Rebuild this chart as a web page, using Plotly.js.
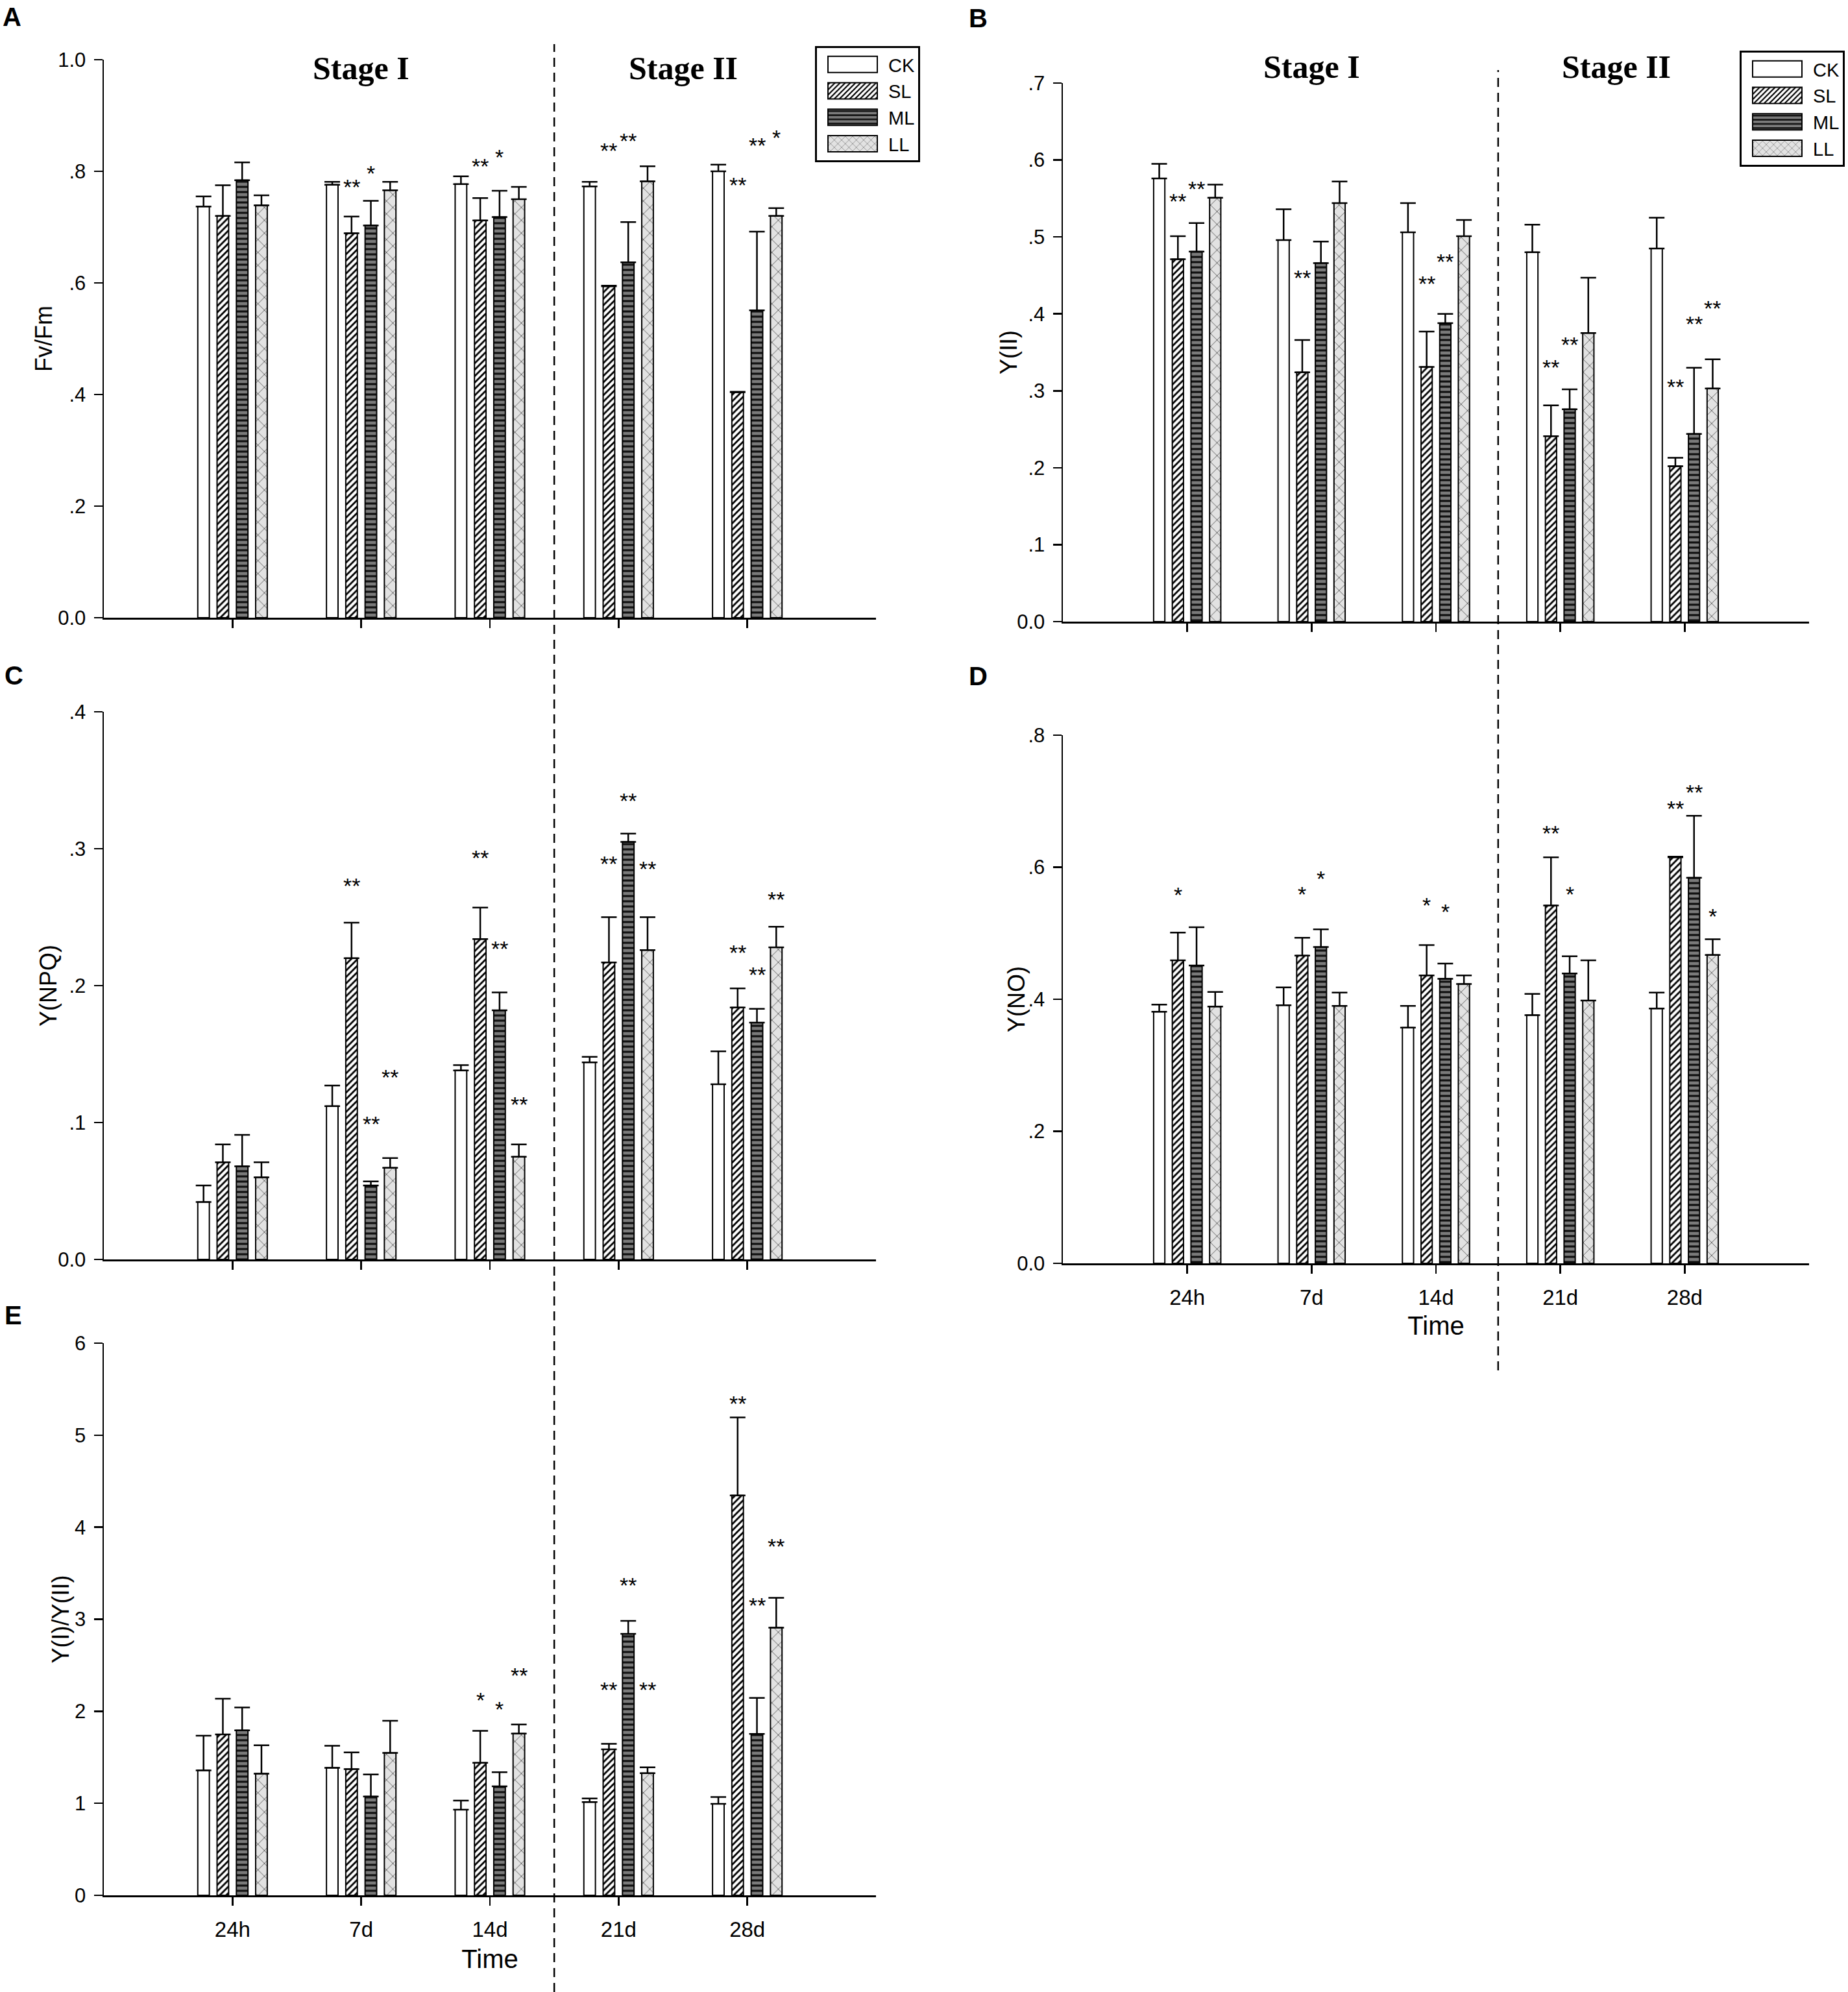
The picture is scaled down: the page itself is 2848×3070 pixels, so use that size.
<!DOCTYPE html>
<html>
<head>
<meta charset="utf-8">
<script src="https://cdn.plot.ly/plotly-3.0.1.min.js"></script>
<style>
  body { margin: 0; background: #fff; }
  #grafico { width: 2848px; height: 3070px; }
</style>
</head>
<body>
<div id="grafico"></div>
<script>
// ====================================
// DATOS
// ====================================
const tiempos = ['24h', '7d', '14d', '21d', '28d'];
const tratamientos = ['CK', 'SL', 'ML', 'LL'];

// ---- A: Fv/Fm ----
const fvfmCK = [0.737, 0.776, 0.777, 0.773, 0.800];
const fvfmSL = [0.720, 0.689, 0.712, 0.594, 0.404];
const fvfmML = [0.784, 0.703, 0.718, 0.637, 0.551];
const fvfmLL = [0.739, 0.766, 0.750, 0.782, 0.720];
const fvfmCKerr = [0.018, 0.005, 0.014, 0.008, 0.012];
const fvfmSLerr = [0.055, 0.030, 0.040, 0.001, 0.001];
const fvfmMLerr = [0.032, 0.044, 0.047, 0.072, 0.141];
const fvfmLLerr = [0.018, 0.015, 0.022, 0.027, 0.014];

// ---- B: Y(II) ----
const yiiCK = [0.576, 0.496, 0.506, 0.480, 0.485];
const yiiSL = [0.471, 0.324, 0.331, 0.241, 0.202];
const yiiML = [0.481, 0.466, 0.388, 0.276, 0.244];
const yiiLL = [0.551, 0.544, 0.501, 0.375, 0.303];
const yiiCKerr = [0.019, 0.040, 0.038, 0.036, 0.040];
const yiiSLerr = [0.030, 0.042, 0.046, 0.040, 0.011];
const yiiMLerr = [0.037, 0.028, 0.012, 0.026, 0.086];
const yiiLLerr = [0.017, 0.028, 0.021, 0.072, 0.038];

// ---- C: Y(NPQ) ----
const npqCK = [0.042, 0.112, 0.138, 0.144, 0.128];
const npqSL = [0.071, 0.220, 0.234, 0.217, 0.184];
const npqML = [0.068, 0.054, 0.182, 0.305, 0.173];
const npqLL = [0.060, 0.067, 0.075, 0.226, 0.228];
const npqCKerr = [0.012, 0.015, 0.004, 0.004, 0.024];
const npqSLerr = [0.013, 0.026, 0.023, 0.033, 0.014];
const npqMLerr = [0.023, 0.003, 0.013, 0.006, 0.010];
const npqLLerr = [0.011, 0.007, 0.009, 0.024, 0.015];

// ---- D: Y(NO) ----
const noCK = [0.381, 0.391, 0.357, 0.376, 0.386];
const noSL = [0.459, 0.466, 0.436, 0.542, 0.615];
const noML = [0.451, 0.479, 0.431, 0.439, 0.584];
const noLL = [0.389, 0.390, 0.423, 0.398, 0.467];
const noCKerr = [0.011, 0.027, 0.033, 0.032, 0.024];
const noSLerr = [0.042, 0.027, 0.046, 0.073, 0.001];
const noMLerr = [0.058, 0.027, 0.023, 0.026, 0.094];
const noLLerr = [0.022, 0.020, 0.013, 0.061, 0.024];

// ---- E: Y(I)/Y(II) ----
const ratioCK = [1.357, 1.386, 0.931, 1.014, 0.994];
const ratioSL = [1.749, 1.371, 1.440, 1.587, 4.345];
const ratioML = [1.793, 1.073, 1.185, 2.841, 1.753];
const ratioLL = [1.322, 1.548, 1.758, 1.327, 2.909];
const ratioCKerr = [0.377, 0.240, 0.098, 0.039, 0.074];
const ratioSLerr = [0.387, 0.182, 0.348, 0.059, 0.847];
const ratioMLerr = [0.249, 0.240, 0.152, 0.142, 0.392];
const ratioLLerr = [0.309, 0.348, 0.098, 0.064, 0.324];

// Asteriscos de significancia: [tiempo, tratamiento, texto, altura]
const astFvFm = [[1, 1, '**', 0.781], [1, 2, '*', 0.806], [2, 1, '**', 0.819], [2, 2, '*', 0.835],
                 [3, 1, '**', 0.847], [3, 2, '**', 0.864], [4, 1, '**', 0.785], [4, 2, '**', 0.856], [4, 3, '*', 0.870]];
const astYII = [[0, 1, '**', 0.553], [0, 2, '**', 0.569], [1, 1, '**', 0.454], [2, 1, '**', 0.446], [2, 2, '**', 0.475],
                [3, 1, '**', 0.337], [3, 2, '**', 0.367], [4, 1, '**', 0.312], [4, 2, '**', 0.394], [4, 3, '**', 0.414]];
const astNPQ = [[1, 1, '**', 0.277], [1, 2, '**', 0.103], [1, 3, '**', 0.137], [2, 1, '**', 0.297], [2, 2, '**', 0.231],
                [2, 3, '**', 0.117], [3, 1, '**', 0.293], [3, 2, '**', 0.339], [3, 3, '**', 0.289], [4, 1, '**', 0.228],
                [4, 2, '**', 0.212], [4, 3, '**', 0.267]];
const astNO = [[0, 1, '*', 0.566], [1, 1, '*', 0.567], [1, 2, '*', 0.591], [2, 1, '*', 0.550], [2, 2, '*', 0.541],
               [3, 1, '**', 0.659], [3, 2, '*', 0.567], [4, 1, '**', 0.697], [4, 2, '**', 0.721], [4, 3, '*', 0.534]];
const astRatio = [[2, 1, '*', 2.18], [2, 2, '*', 2.08], [2, 3, '**', 2.45], [3, 1, '**', 2.29], [3, 2, '**', 3.43],
                  [3, 3, '**', 2.29], [4, 1, '**', 5.40], [4, 2, '**', 3.21], [4, 3, '**', 3.85]];

// Marcas de los ejes Y
const ticksFvFm = [0, 0.2, 0.4, 0.6, 0.8, 1.0];
const etiqFvFm = ['0.0', '.2', '.4', '.6', '.8', '1.0'];
const ticksYII = [0, 0.1, 0.2, 0.3, 0.4, 0.5, 0.6, 0.7];
const etiqYII = ['0.0', '.1', '.2', '.3', '.4', '.5', '.6', '.7'];
const ticksNPQ = [0, 0.1, 0.2, 0.3, 0.4];
const etiqNPQ = ['0.0', '.1', '.2', '.3', '.4'];
const ticksNO = [0, 0.2, 0.4, 0.6, 0.8];
const etiqNO = ['0.0', '.2', '.4', '.6', '.8'];
const ticksRatio = [0, 1, 2, 3, 4, 5, 6];
const etiqRatio = ['0', '1', '2', '3', '4', '5', '6'];

// ====================================
// ESTILOS
// ====================================
const FUENTE = '"Liberation Sans Narrow", "Liberation Sans", Arial, sans-serif';
const SANS = '"Liberation Sans", Arial, sans-serif';
const BARGAP = 0.4;
const GROUPGAP = 0.4;
const paso = (1 - BARGAP) / tratamientos.length;   // hueco de cada barra dentro del grupo
const MUESTRA = 'M38,12.5H-38V-12.5H38Z';          // rectángulo de la leyenda

const rellenos = {
    CK: { color: 'white' },
    SL: { color: 'white', pattern: { shape: '/', bgcolor: 'white', fgcolor: 'black', size: 7, solidity: 0.4, fillmode: 'replace' } },
    ML: { color: '#6e6e6e', pattern: { shape: '-', bgcolor: '#7a7a7a', fgcolor: '#111', size: 8, solidity: 0.4, fillmode: 'replace' } },
    LL: { color: '#e2e2e2', pattern: { shape: 'x', bgcolor: '#e2e2e2', fgcolor: '#333', size: 14, solidity: 0.1, fillmode: 'replace' } }
};

const izq = [160 / 2848, 1350 / 2848];
const der = [1638 / 2848, 2788 / 2848];
const py = v => 1 - v / 3070;

const paneles = [
    { letra: 'A', titulo: 'Fv/Fm', medias: [fvfmCK, fvfmSL, fvfmML, fvfmLL], errores: [fvfmCKerr, fvfmSLerr, fvfmMLerr, fvfmLLerr],
      ast: astFvFm, rango: [0, 1], ticks: ticksFvFm, etiq: etiqFvFm, dx: izq, dy: [py(952), py(92)], leyenda: 'legend', tiempo: false, xt: 68 },
    { letra: 'B', titulo: 'Y(II)', medias: [yiiCK, yiiSL, yiiML, yiiLL], errores: [yiiCKerr, yiiSLerr, yiiMLerr, yiiLLerr],
      ast: astYII, rango: [0, 0.7], ticks: ticksYII, etiq: etiqYII, dx: der, dy: [py(958), py(128)], leyenda: 'legend2', tiempo: false, xt: 1555 },
    { letra: 'C', titulo: 'Y(NPQ)', medias: [npqCK, npqSL, npqML, npqLL], errores: [npqCKerr, npqSLerr, npqMLerr, npqLLerr],
      ast: astNPQ, rango: [0, 0.4], ticks: ticksNPQ, etiq: etiqNPQ, dx: izq, dy: [py(1941), py(1097)], leyenda: null, tiempo: false, xt: 74 },
    { letra: 'D', titulo: 'Y(NO)', medias: [noCK, noSL, noML, noLL], errores: [noCKerr, noSLerr, noMLerr, noLLerr],
      ast: astNO, rango: [0, 0.8], ticks: ticksNO, etiq: etiqNO, dx: der, dy: [py(1947), py(1133)], leyenda: null, tiempo: true, xt: 1566 },
    { letra: 'E', titulo: 'Y(I)/Y(II)', medias: [ratioCK, ratioSL, ratioML, ratioLL], errores: [ratioCKerr, ratioSLerr, ratioMLerr, ratioLLerr],
      ast: astRatio, rango: [0, 6], ticks: ticksRatio, etiq: etiqRatio, dx: izq, dy: [py(2921), py(2070)], leyenda: null, tiempo: true, xt: 93 }
];

// posición de cada letra de panel (px)
const posLetra = { A: [2, 26], B: [1491, 28], C: [5, 1041], D: [1491, 1042], E: [5, 2027] };

// ====================================
// TRAZAS Y EJES
// ====================================
const trazas = [];
const anotaciones = [];
const layout = {
    width: 2848,
    height: 3070,
    paper_bgcolor: 'white',
    plot_bgcolor: 'rgba(0,0,0,0)',
    font: { family: FUENTE, color: 'black', size: 30 },
    margin: { l: 0, r: 0, t: 0, b: 0 },
    barmode: 'group',
    bargap: BARGAP,
    bargroupgap: GROUPGAP,
    showlegend: true
};

paneles.forEach((p, k) => {
    const sufijo = k === 0 ? '' : String(k + 1);

    tratamientos.forEach((t, i) => {
        const r = rellenos[t];
        const marcador = { color: r.color, line: { color: 'black', width: 2 } };
        if (r.pattern) marcador.pattern = r.pattern;
        trazas.push({
            type: 'bar',
            x: tiempos,
            y: p.medias[i],
            name: t,
            xaxis: 'x' + sufijo,
            yaxis: 'y' + sufijo,
            marker: marcador,
            error_y: {
                type: 'data',
                symmetric: false,
                array: p.errores[i],
                arrayminus: p.errores[i].map(() => 0),
                color: 'black',
                thickness: 2.5,
                width: 12
            },
            showlegend: p.leyenda !== null,
            legend: p.leyenda || 'legend',
            legendgroup: p.letra + t,
            hoverinfo: 'skip'
        });
    });

    layout['xaxis' + sufijo] = {
        domain: p.dx,
        anchor: 'y' + sufijo,
        type: 'category',
        categoryorder: 'array',
        categoryarray: tiempos,
        range: [-1, 5],
        showline: true,
        linecolor: 'black',
        linewidth: 2.5,
        ticks: 'outside',
        ticklen: 13,
        tickwidth: 2.5,
        tickcolor: 'black',
        showticklabels: p.tiempo,
        tickfont: { size: 33 },
        ticklabelstandoff: 9,
        showgrid: false,
        zeroline: false,
        title: p.tiempo ? { text: 'Time', font: { size: 40 }, standoff: k === 3 ? 12 : 14 } : { text: '' }
    };
    layout['yaxis' + sufijo] = {
        domain: p.dy,
        anchor: 'x' + sufijo,
        range: p.rango,
        tickmode: 'array',
        tickvals: p.ticks,
        ticktext: p.etiq,
        showline: true,
        linecolor: 'black',
        linewidth: 2.5,
        ticks: 'outside',
        ticklen: 13,
        tickwidth: 2.5,
        tickcolor: 'black',
        tickfont: { size: 31 },
        ticklabelstandoff: 6,
        showgrid: false,
        zeroline: false
    };

    // ---- título del eje Y ----
    anotaciones.push({
        xref: 'paper', yref: 'y' + sufijo + ' domain',
        x: p.xt / 2848, y: 0.5, xanchor: 'center', yanchor: 'middle',
        text: p.titulo, textangle: -90, showarrow: false,
        font: { family: SANS, size: 36 }
    });

    // ---- asteriscos ----
    p.ast.forEach(([g, b, txt, alto]) => {
        anotaciones.push({
            xref: 'x' + sufijo, yref: 'y' + sufijo,
            x: g + (b - 1.5) * paso, y: alto,
            text: txt, showarrow: false,
            font: { family: SANS, size: 34 },
            yanchor: 'middle', yshift: -8
        });
    });

    // ---- letra del panel ----
    const [lx, ly] = posLetra[p.letra];
    anotaciones.push({
        xref: 'paper', yref: 'paper', x: lx / 2848, y: py(ly),
        xanchor: 'left', yanchor: 'middle',
        text: '<b>' + p.letra + '</b>', showarrow: false,
        font: { family: SANS, size: 40 }
    });
});

// ---- rótulos de las etapas ----
const etapas = [['x', 1, 'Stage I'], ['x', 3.5, 'Stage II'], ['x2', 1, 'Stage I'], ['x2', 3.45, 'Stage II']];
etapas.forEach(([eje, xv, txt]) => {
    anotaciones.push({
        xref: eje, yref: 'paper', x: xv, y: eje === 'x' ? py(105) : py(103),
        yanchor: 'middle', text: '<b>' + txt + '</b>', showarrow: false,
        font: { family: '"Liberation Serif", "Times New Roman", serif', size: 50 }
    });
});
layout.annotations = anotaciones;

// ---- líneas discontinuas entre etapas ----
layout.shapes = [
    { type: 'line', xref: 'x', yref: 'paper', x0: 2.5, x1: 2.5, y0: 0, y1: py(68),
      line: { color: 'black', width: 2.5, dash: '14px,9px' } },
    { type: 'line', xref: 'x2', yref: 'paper', x0: 2.5, x1: 2.5, y0: py(2112), y1: py(108),
      line: { color: 'black', width: 2.5, dash: '14px,9px' } }
];

// ---- leyendas ----
const estiloLeyenda = {
    bgcolor: 'white',
    bordercolor: 'black',
    borderwidth: 3,
    font: { family: SANS, size: 29 },
    itemwidth: 100,
    tracegroupgap: 0,
    xanchor: 'right',
    yanchor: 'top'
};
layout.legend = Object.assign({}, estiloLeyenda, { x: 1418 / 2848, y: py(71) });
layout.legend2 = Object.assign({}, estiloLeyenda, { x: 2843 / 2848, y: py(78) });

// ====================================
// DIBUJAR
// ====================================
function ensancharMuestras() {
    // las muestras de barra de plotly son de 12px; en la figura son rectángulos anchos
    document.querySelectorAll('g.legendpoints path').forEach(el => {
        el.setAttribute('d', MUESTRA);
    });
}

Plotly.newPlot('grafico', trazas, layout, { staticPlot: true }).then(() => {
    ensancharMuestras();
    setTimeout(ensancharMuestras, 50);
});
</script>
</body>
</html>
